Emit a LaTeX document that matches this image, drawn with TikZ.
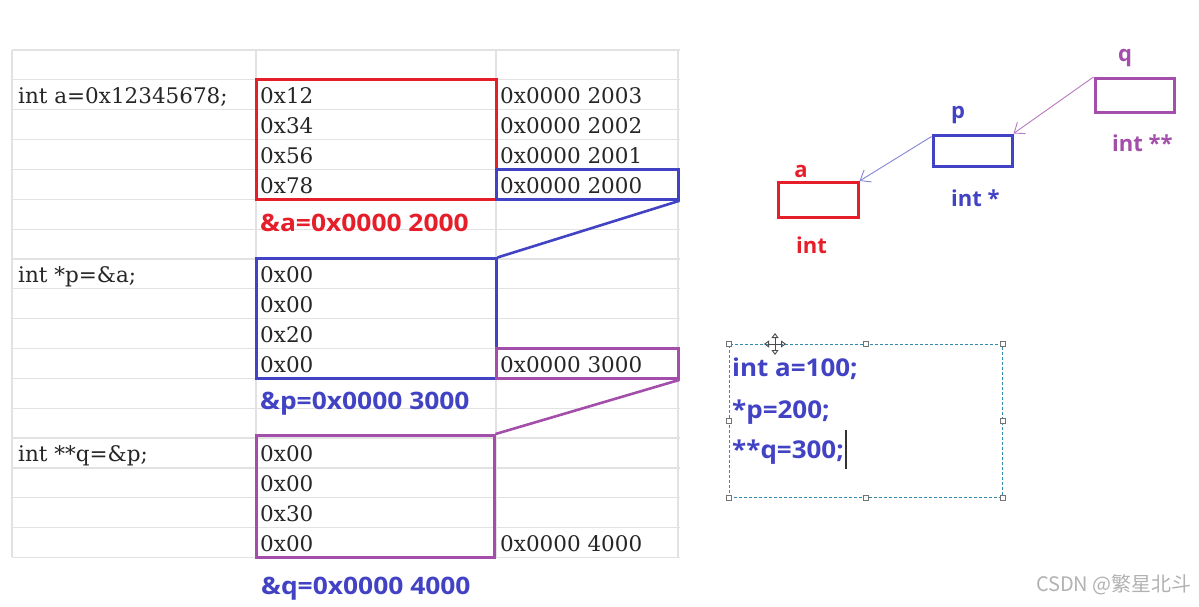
\documentclass[tikz,border=0pt]{standalone}
\usepackage{fontspec}
\setmainfont{DejaVu Serif}
\newfontfamily\boldsans{Open Sans}
\newfontfamily\widesans{Open Sans}[FakeStretch=1.1]
\newfontfamily\codesans{Open Sans}[FakeStretch=1.06]
\newfontfamily\cjk{Noto Sans CJK SC}
\usetikzlibrary{arrows.meta}
\definecolor{cred}{RGB}{230,30,42}
\definecolor{cblue}{RGB}{66,66,196}
\definecolor{cpurple}{RGB}{162,78,170}
\definecolor{gridgray}{RGB}{226,226,226}
\definecolor{dashcol}{RGB}{50,140,175}
\tikzset{
  gridline/.style={draw=gridgray, line width=1.2},
  cell/.style={anchor=base west, inner sep=0, font=\fontsize{21.5}{24}\selectfont, text=black!85},
  membox/.style={draw, line width=3, inner sep=0, minimum width=240, minimum height=119.4},
  addrbox/.style={draw, line width=3, inner sep=0, minimum width=182, minimum height=29.85},
  link/.style={line width=2.6},
  lab/.style={anchor=base west, inner sep=0, font=\widesans\bfseries\fontsize{24}{28}\selectfont},
  varbox/.style={draw, line width=3, inner sep=0, minimum width=79, minimum height=33},
  varname/.style={inner sep=0, font=\boldsans\bfseries\fontsize{22}{26}\selectfont},
  ptrarrow/.style={line width=0.9, -{Straight Barb[length=9, width=14, line width=0.9]}},
  handle/.style={draw=black!55, fill=white, line width=0.6, minimum size=5, inner sep=0},
  codeline/.style={anchor=base west, inner sep=0, text=cblue, font=\codesans\bfseries\fontsize{24.5}{28}\selectfont},
  movetip/.style={line width=0.9, black!70, {Triangle[open,length=5,width=7]}-{Triangle[open,length=5,width=7]}},
}
\begin{document}
\begin{tikzpicture}[x=1pt,y=-1pt]
\useasboundingbox[fill=white] (0,0) rectangle (1199,606);

% spreadsheet grid
\foreach \i in {0,...,17}
  \draw[gridline] (12,{50+29.85*\i}) -- (680,{50+29.85*\i});
\foreach \x in {12,256,496,678}
  \draw[gridline] (\x,50) -- (\x,557.45);

% left column
\node[cell] (da) at (18,103.7) {int a=0x12345678;};
\node[cell] (dp) at (18,282.8) {int *p=\&a;};
\node[cell] (dq) at (18,461.9) {int **q=\&p;};

% bytes of a
\node[cell] (a1) at (260,103.7) {0x12};
\node[cell] (a2) at (260,133.55) {0x34};
\node[cell] (a3) at (260,163.4) {0x56};
\node[cell] (a4) at (260,193.25) {0x78};
% addresses of a
\node[cell] (ad3) at (500,103.7) {0x0000 2003};
\node[cell] (ad2) at (500,133.55) {0x0000 2002};
\node[cell] (ad1) at (500,163.4) {0x0000 2001};
\node[cell] (ad0) at (500,193.25) {0x0000 2000};

% bytes of p
\node[cell] (p1) at (260,282.8) {0x00};
\node[cell] (p2) at (260,312.65) {0x00};
\node[cell] (p3) at (260,342.5) {0x20};
\node[cell] (p4) at (260,372.35) {0x00};
\node[cell] (pd0) at (500,372.35) {0x0000 3000};

% bytes of q
\node[cell] (q1) at (260,461.9) {0x00};
\node[cell] (q2) at (260,491.75) {0x00};
\node[cell] (q3) at (260,521.6) {0x30};
\node[cell] (q4) at (260,551.45) {0x00};
\node[cell] (qd0) at (500,551.45) {0x0000 4000};

% boxes
\node[membox, draw=cred] (boxA) at (376,139.55) {};
\node[addrbox, draw=cblue] (addrA) at (587,184.33) {};
\node[membox, draw=cblue] (boxP) at (376,318.65) {};
\node[addrbox, draw=cpurple] (addrP) at (587,363.43) {};
\node[membox, draw=cpurple, minimum width=238, minimum height=122] (boxQ) at (375,496.5) {};

\draw[link, cblue] (addrA.south east) -- (boxP.north east);
\draw[link, cpurple] (addrP.south east) -- (boxQ.north east);

% address labels
\node[lab, text=cred] (la) at (260,231.5) {\&a=0x0000 2000};
\node[lab, text=cblue] (lp) at (260,409.5) {\&p=0x0000 3000};
\node[lab, text=cblue] (lq) at (261,594.5) {\&q=0x0000 4000};

% pointer diagram
\node[varbox, draw=cred, minimum height=35, minimum width=80] (va) at (818,200) {};
\node[varbox, draw=cblue, minimum height=31] (vp) at (972.5,150.5) {};
\node[varbox, draw=cpurple, minimum height=34] (vq) at (1134.5,95.5) {};

\node[varname, text=cred] (na) at (801,171) {a};
\node[varname, text=cblue] (np) at (958,115) {p};
\node[varname, text=cpurple] (nq) at (1125,58) {q};

\node[varname, text=cred, anchor=west] (ta) at (796,245) {int};
\node[varname, text=cblue, anchor=west] (tp) at (951,198) {int *};
\node[varname, text=cpurple, anchor=west] (tq) at (1112,143) {int **};

\draw[ptrarrow, draw=cpurple!75] (vq.north west) -- (vp.north east);
\draw[ptrarrow, draw=cblue!65] ([yshift=-3]vp.north west) -- (va.north east);

% text box with handles
\node[draw=dashcol, dash pattern=on 3pt off 2pt, line width=0.8, inner sep=0,
      minimum width=273, minimum height=153] (tb) at (865.5,420.5) {};
\foreach \a in {north west,north,north east,east,south east,south,south west,west}
  \node[handle] at (tb.\a) {};

\node[codeline] (c1) at (732,376.5) {int a=100;};
\node[codeline] (c2) at (732,418.5) {*p=200;};
\node[codeline] (c3) at (732,458.5) {**q=300;};
\coordinate (cur) at ([xshift=2]c3.base east);
\draw[line width=1.1, black!80] ([yshift=29]cur) -- ([yshift=-10]cur);

% move cursor
\coordinate (mv) at (775,344);
\draw[movetip] ([xshift=-11]mv) -- ([xshift=11]mv);
\draw[movetip] ([yshift=-11]mv) -- ([yshift=11]mv);

% watermark
\node[anchor=east, inner sep=0, text=black!30, font=\cjk\fontsize{20}{22}\selectfont] (wm) at (1192,585) {CSDN @繁星北斗};
\end{tikzpicture}
\end{document}
